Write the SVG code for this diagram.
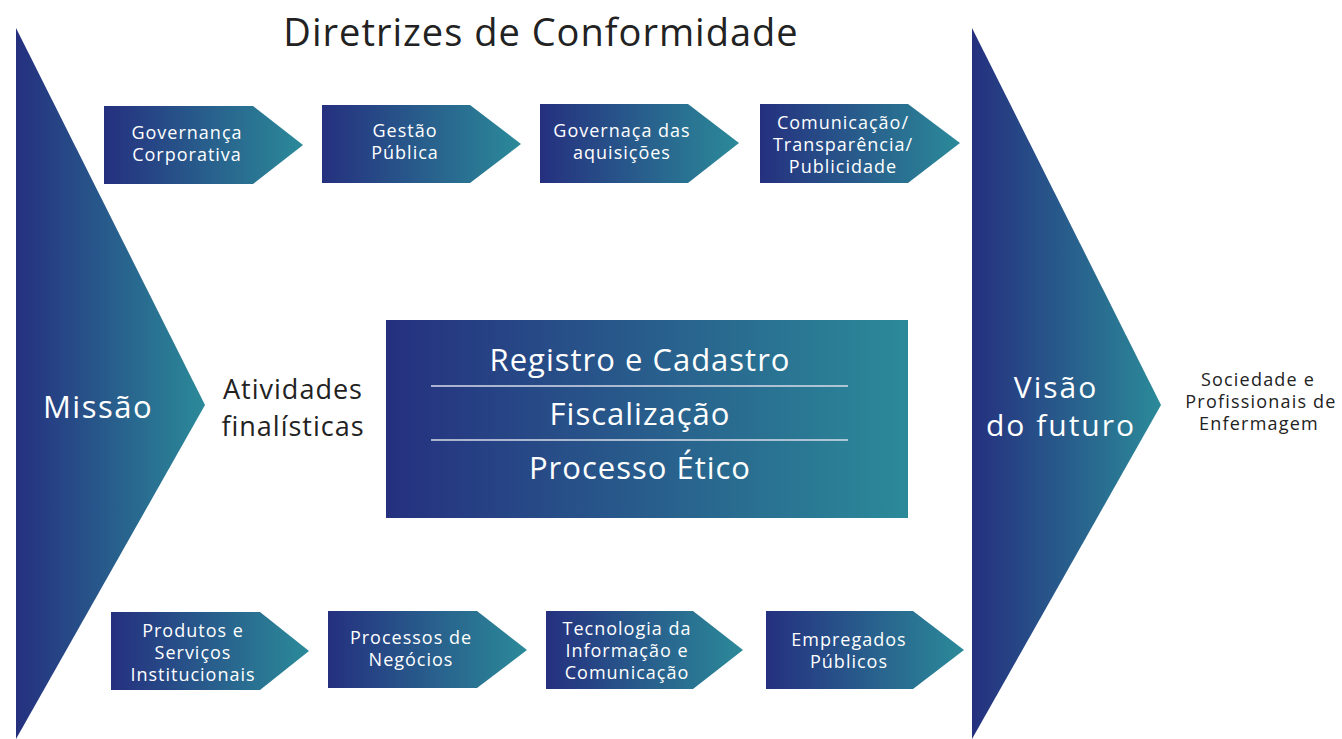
<svg xmlns="http://www.w3.org/2000/svg" width="1342" height="739" viewBox="0 0 1342 739">
<defs>
<linearGradient id="g" x1="0" y1="0" x2="1" y2="0" gradientUnits="objectBoundingBox">
<stop offset="0" stop-color="#25307f"/>
<stop offset="1" stop-color="#2b8a99"/>
</linearGradient>
</defs>
<style>
.f{fill:url(#g);}
.w{fill:#fff;font-family:"Open Sans","Noto Sans",sans-serif;text-anchor:middle;}
.b{fill:#222;font-family:"Open Sans","Noto Sans",sans-serif;text-anchor:middle;}
.s{font-size:18px;letter-spacing:1px;}
.ln{stroke:#d8dde8;stroke-width:1.5;}
</style>
<rect width="1342" height="739" fill="#fff"/>
<text class="b" x="541" y="46" font-size="38" letter-spacing="1">Diretrizes de Conformidade</text>
<g id="missao">
<polygon class="f" points="16,28 205,405 16,739"/>
<text class="w" x="98" y="418" font-size="31" letter-spacing="1.5">Missão</text>
</g>
<g id="atividades">
<text class="b" x="293" y="399" font-size="27" letter-spacing="1">Atividades</text>
<text class="b" x="293" y="436" font-size="27" letter-spacing="1">finalísticas</text>
</g>
<g id="visao">
<polygon class="f" points="972,28 1161,405 972,739"/>
<text class="w" x="1056" y="398" font-size="30" letter-spacing="2">Visão</text>
<text class="w" x="1061" y="436" font-size="30" letter-spacing="2">do futuro</text>
</g>
<g id="sociedade">
<text class="b" x="1258" y="386" font-size="18" letter-spacing="1.2">Sociedade e</text>
<text class="b" x="1261" y="408" font-size="18" letter-spacing="1.2">Profissionais de</text>
<text class="b" x="1259" y="430" font-size="18" letter-spacing="1.2">Enfermagem</text>
</g>
<g id="c1">
<polygon class="f" points="104,106 253,106 303,145 253,184 104,184"/>
<text class="w s" x="187" y="139">Governança</text>
<text class="w s" x="187" y="161">Corporativa</text>
</g>
<g id="c2">
<polygon class="f" points="322,105 470,105 521,144 470,183 322,183"/>
<text class="w s" x="405" y="137">Gestão</text>
<text class="w s" x="405" y="159">Pública</text>
</g>
<g id="c3">
<polygon class="f" points="540,104 688,104 739,143 688,183 540,183"/>
<text class="w s" x="622" y="137">Governaça das</text>
<text class="w s" x="622" y="159">aquisições</text>
</g>
<g id="c4">
<polygon class="f" points="760,104 908,104 960,143 908,183 760,183"/>
<text class="w s" x="843" y="129">Comunicação/</text>
<text class="w s" x="843" y="151">Transparência/</text>
<text class="w s" x="843" y="173">Publicidade</text>
</g>
<g id="centro">
<rect class="f" x="386" y="320" width="522" height="198"/>
<line class="ln" x1="431" y1="386" x2="848" y2="386"/>
<line class="ln" x1="431" y1="440" x2="848" y2="440"/>
<text class="w" x="640" y="371" font-size="31" letter-spacing="1">Registro e Cadastro</text>
<text class="w" x="640" y="425" font-size="31" letter-spacing="1">Fiscalização</text>
<text class="w" x="640" y="479" font-size="31" letter-spacing="1">Processo Ético</text>
</g>
<g id="c5">
<polygon class="f" points="111,612 260,612 309,651 260,690 111,690"/>
<text class="w s" x="193" y="637">Produtos e</text>
<text class="w s" x="193" y="659">Serviços</text>
<text class="w s" x="193" y="681">Institucionais</text>
</g>
<g id="c6">
<polygon class="f" points="328,611 477,611 527,650 477,688 328,688"/>
<text class="w s" x="411" y="644">Processos de</text>
<text class="w s" x="411" y="666">Negócios</text>
</g>
<g id="c7">
<polygon class="f" points="546,611 693,611 743,650 693,689 546,689"/>
<text class="w s" x="627" y="635">Tecnologia da</text>
<text class="w s" x="627" y="657">Informação e</text>
<text class="w s" x="627" y="679">Comunicação</text>
</g>
<g id="c8">
<polygon class="f" points="766,611 913,611 964,650 913,689 766,689"/>
<text class="w s" x="849" y="646">Empregados</text>
<text class="w s" x="849" y="668">Públicos</text>
</g>
<g id="connectors"></g>
</svg>
